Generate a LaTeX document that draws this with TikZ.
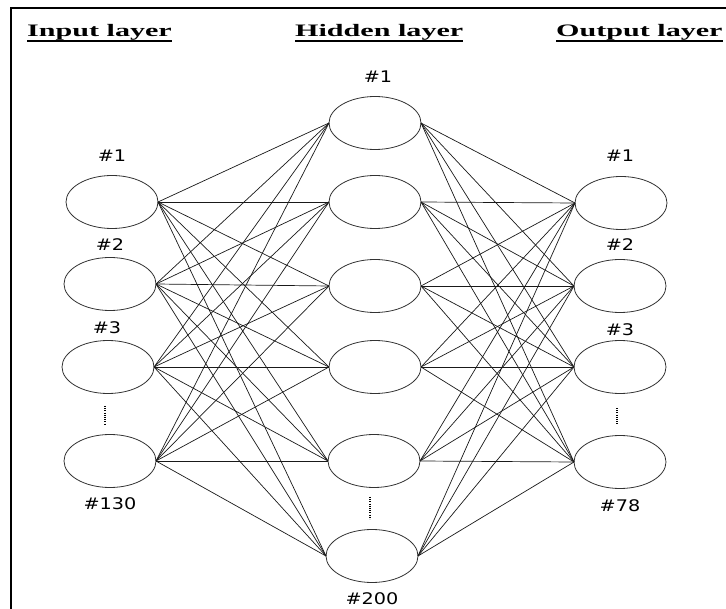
\documentclass[tikz,border=0pt]{standalone}
\usepackage{fontspec}
\usepackage{graphicx}
\usetikzlibrary{shapes.geometric}
\newfontfamily\headfont{Liberation Serif}
\newfontfamily\numfont{DejaVu Sans}
\newcommand{\stretchx}[2]{\scalebox{#1}[1]{#2}}

\begin{document}
\begin{tikzpicture}[x=1pt, y=-1pt,
    neuron/.style={draw=black!80, line width=0.8pt, ellipse, minimum width=92pt, minimum height=53pt, inner sep=0pt, outer sep=0pt},
    link/.style={draw=black!90, line width=0.7pt},
    numtag/.style={inner sep=0pt, font=\numfont\fontsize{16}{16}\selectfont},
    head/.style={inner sep=0pt, anchor=base west, font=\headfont\bfseries\fontsize{17.5}{17.5}\selectfont},
    vdots/.style={line width=1.6pt, dash pattern=on 1.1pt off 1.1pt}]
    \useasboundingbox (0,0) rectangle (726,609);

    % frame on top and left
    \draw[line width=2.3pt] (11,609) -- (11,8) -- (726,8);

    % layer headings, underlined
    \node[head] (inHead) at (27,37) {\stretchx{1.72}{Input layer}};
    \node[head] (hidHead) at (295,37) {\stretchx{1.72}{Hidden layer}};
    \node[head] (outHead) at (556,37) {\stretchx{1.72}{Output layer}};
    \foreach \h in {inHead, hidHead, outHead}
        \draw[line width=1.8pt] ([yshift=-4pt]\h.base west) -- ([yshift=-4pt]\h.base east);

    % input layer
    \node[neuron] (in1) at (112,202) {};
    \node[neuron] (in2) at (110,284) {};
    \node[neuron] (in3) at (108,367) {};
    \node[neuron] (in4) at (110,461) {};
    \node[numtag] (in1tag) at (112,156) {\stretchx{1.2}{\#1}};
    \node[numtag] (in2tag) at (110,245) {\stretchx{1.2}{\#2}};
    \node[numtag] (in3tag) at (107,328) {\stretchx{1.2}{\#3}};
    \node[numtag] (in4tag) at (110,504) {\stretchx{1.2}{\#130}};
    \coordinate (inDotTop) at (105,406);
    \coordinate (inDotBot) at (105,424);
    \draw[vdots] (inDotTop) -- (inDotBot);

    % hidden layer
    \node[neuron] (hid1) at (375,123) {};
    \node[neuron] (hid2) at (375,202) {};
    \node[neuron] (hid3) at (375,286) {};
    \node[neuron] (hid4) at (375,367) {};
    \node[neuron] (hid5) at (374,461) {};
    \node[neuron] (hid6) at (372,556) {};
    \node[numtag] (hid1tag) at (378,77) {\stretchx{1.2}{\#1}};
    \node[numtag] (hid6tag) at (372,599) {\stretchx{1.2}{\#200}};
    \coordinate (hidDotTop) at (370,497);
    \coordinate (hidDotBot) at (370,519);
    \draw[vdots] (hidDotTop) -- (hidDotBot);

    % output layer
    \node[neuron] (out1) at (621,203) {};
    \node[neuron] (out2) at (620,286) {};
    \node[neuron] (out3) at (620,367) {};
    \node[neuron] (out4) at (620,462) {};
    \node[numtag] (out1tag) at (620,156) {\stretchx{1.2}{\#1}};
    \node[numtag] (out2tag) at (620,245) {\stretchx{1.2}{\#2}};
    \node[numtag] (out3tag) at (620,330) {\stretchx{1.2}{\#3}};
    \node[numtag] (out4tag) at (620,506) {\stretchx{1.2}{\#78}};
    \coordinate (outDotTop) at (617,408);
    \coordinate (outDotBot) at (617,424);
    \draw[vdots] (outDotTop) -- (outDotBot);

    % fully connected weights
    \foreach \i in {1,...,4}
        \foreach \j in {1,...,6} {
            \draw[link] (in\i.east) -- (hid\j.west);
            \draw[link] (hid\j.east) -- (out\i.west);
        }
\end{tikzpicture}
\end{document}
